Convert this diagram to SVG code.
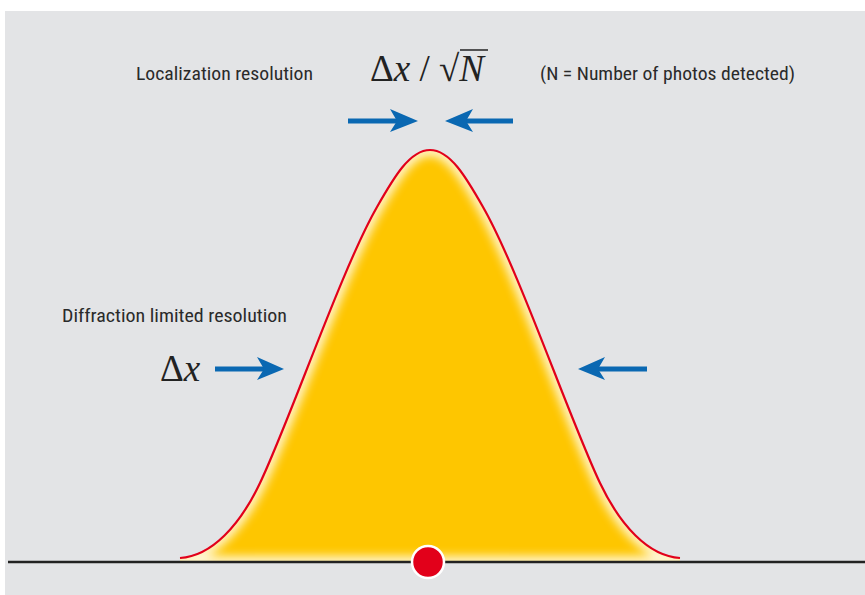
<svg xmlns="http://www.w3.org/2000/svg" width="865" height="595" viewBox="0 0 865 595">
<style>
.lbl{font-family:"Liberation Sans Narrow","Roboto Condensed","Liberation Sans",Arial,sans-serif;font-size:17.5px;fill:#2a2a2a}
.math{font-family:"Liberation Serif","Times New Roman",serif;font-size:37px;fill:#222}
.arrow{fill:#0a68b2}
.shaft{stroke:#0a68b2;stroke-width:5}
</style>
<defs>
<path id="curve" d="M180,558 C212,556 240,525 260,483 C290,420 342,268 377,207 C394,177 410,150 430,150 C450,150 466,177 483,207 C518,268 570,420 600,483 C620,525 648,556 680,558"/>
<clipPath id="clip"><path d="M180,558 C212,556 240,525 260,483 C290,420 342,268 377,207 C394,177 410,150 430,150 C450,150 466,177 483,207 C518,268 570,420 600,483 C620,525 648,556 680,558 L680,562 L180,562 Z"/></clipPath>
<filter id="blur" x="-10%" y="-10%" width="120%" height="120%"><feGaussianBlur stdDeviation="5"/></filter>
</defs>
<rect x="0" y="0" width="865" height="595" fill="#ffffff"/>
<rect x="5" y="11" width="860" height="584" fill="#e3e4e6"/>
<g id="peak">
<path d="M180,558 C212,556 240,525 260,483 C290,420 342,268 377,207 C394,177 410,150 430,150 C450,150 466,177 483,207 C518,268 570,420 600,483 C620,525 648,556 680,558 L680,562 L180,562 Z" fill="#fec600"/>
<g clip-path="url(#clip)">
<path d="M180,558 C212,556 240,525 260,483 C290,420 342,268 377,207 C394,177 410,150 430,150 C450,150 466,177 483,207 C518,268 570,420 600,483 C620,525 648,556 680,558 L680,562 L180,562 Z" fill="none" stroke="#fffbe6" stroke-width="12" opacity="0.9" filter="url(#blur)"/>
</g>
<use href="#curve" fill="none" stroke="#e2001a" stroke-width="2.2"/>
</g>
<g id="baseline">
<line x1="8" y1="562" x2="865" y2="562" stroke="#222" stroke-width="2.5"/>
</g>
<g id="dot">
<circle cx="428" cy="562" r="16" fill="#e2001a" stroke="#ffffff" stroke-width="2.5"/>
</g>
<g id="connectors">
<line class="shaft" x1="348" y1="121" x2="398" y2="121"/>
<polygon class="arrow" points="418,121 390,109 397,121 390,132"/>
<line class="shaft" x1="465" y1="121" x2="513" y2="121"/>
<polygon class="arrow" points="445,121 473,109 466,121 473,132"/>
<line class="shaft" x1="215" y1="369" x2="264" y2="369"/>
<polygon class="arrow" points="284,369 257,357 264,369 257,380"/>
<line class="shaft" x1="598" y1="369" x2="647" y2="369"/>
<polygon class="arrow" points="578,369 605,357 598,369 605,380"/>
</g>
<g id="localization">
<text class="lbl" x="136" y="80" textLength="177" lengthAdjust="spacingAndGlyphs">Localization resolution</text>
<text class="math" x="370" y="81">Δ<tspan font-style="italic">x</tspan> / √<tspan font-style="italic">N</tspan></text>
<line x1="460" y1="50" x2="488" y2="50" stroke="#222" stroke-width="1.5"/>
<text class="lbl" x="540" y="80" textLength="255" lengthAdjust="spacingAndGlyphs">(N = Number of photos detected)</text>
</g>
<g id="diffraction">
<text class="lbl" x="62" y="322" textLength="225" lengthAdjust="spacingAndGlyphs">Diffraction limited resolution</text>
<text class="math" x="160" y="381">Δ<tspan font-style="italic">x</tspan></text>
</g>
</svg>
